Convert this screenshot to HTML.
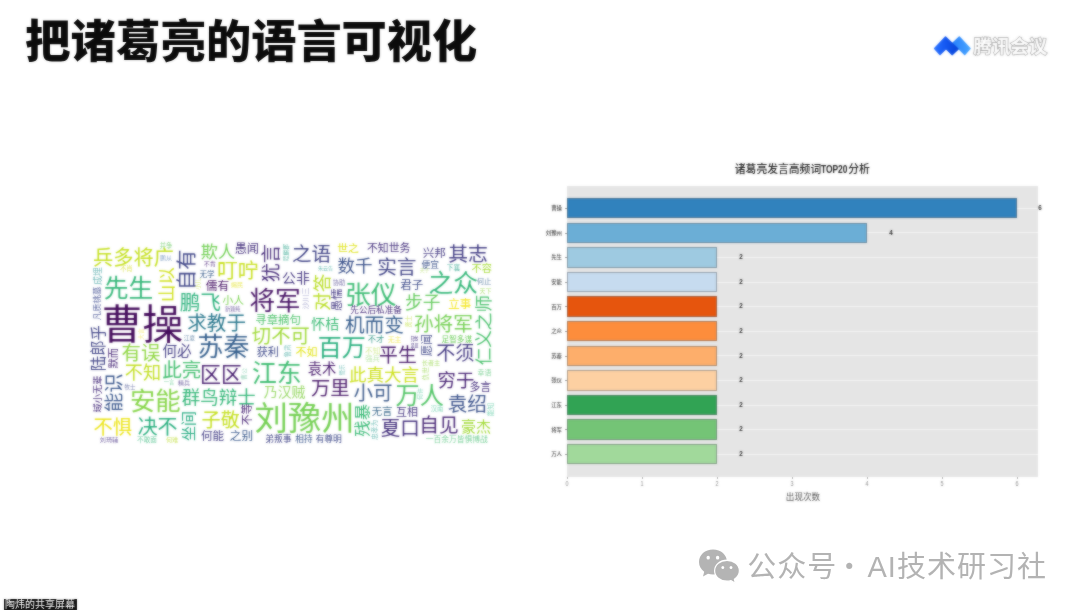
<!DOCTYPE html>
<html lang="zh"><head><meta charset="utf-8"><title>把诸葛亮的语言可视化</title>
<style>
html,body{margin:0;padding:0;background:#fff;}
body{width:1080px;height:610px;position:relative;overflow:hidden;font-family:"Liberation Sans","Noto Sans CJK SC",sans-serif;}
.title{position:absolute;left:25.3px;top:10.5px;font-size:45.2px;line-height:64px;font-weight:900;color:#0b0b0b;white-space:nowrap;letter-spacing:0px;filter:url(#soft2);}
.wc{position:absolute;left:0;top:0;width:1080px;height:610px;filter:url(#soft);}
.wc text{font-family:"Liberation Sans","Noto Sans CJK SC",sans-serif;font-weight:400;}
.chart{position:absolute;left:0;top:0;width:1080px;height:610px;filter:url(#soft);}
.chart div{position:absolute;}
.plot{background:#e5e5e5;}
.grid{height:1px;background:#f4f4f4;}
.bar{box-sizing:border-box;border:1px solid rgba(95,100,105,.5);}
.ylab{left:500px;width:62px;text-align:right;font-size:5.4px;line-height:8px;color:#484848;font-weight:500;}
.ytick{left:564.5px;width:2.5px;height:.6px;background:#999;}
.val{width:10px;text-align:center;font-size:8px;line-height:8px;color:#222;font-weight:700;transform:scaleX(.78);}
.xtick{top:476.6px;width:.6px;height:2.5px;background:#aaa;}
.xlab{top:480px;width:20px;text-align:center;font-size:6.4px;line-height:8px;color:#888;transform:scaleX(.85);}
.ctitle{left:702.3px;top:161.8px;width:200px;text-align:center;font-size:10.8px;line-height:14px;color:#222;font-weight:500;white-space:nowrap;}
.ctitle .t{display:inline-block;width:27px;text-align:left;}
.ctitle .t b{display:inline-block;font-weight:700;font-size:11.2px;transform:scaleX(.75);transform-origin:0 50%;}
.xtitle{left:753px;top:491px;width:100px;text-align:center;font-size:8.6px;line-height:12px;color:#555;}
.logo{position:absolute;left:925px;top:25px;filter:url(#soft);}
.logotxt{position:absolute;left:973.5px;top:34px;font-size:18.4px;line-height:26px;font-weight:700;color:#fff;white-space:nowrap;-webkit-text-stroke:1.3px #a8a8a8;paint-order:stroke fill;text-shadow:0 0 1.5px #aaa;filter:url(#soft);}
.wm{position:absolute;top:546.5px;font-size:29px;line-height:40px;color:#b3b3b3;white-space:nowrap;letter-spacing:1px;font-weight:400;}
.wmicon{position:absolute;left:694.5px;top:543.8px;}
.share{position:absolute;left:3.5px;top:598.5px;width:73px;height:12px;background:#111;color:#fff;font-size:10px;line-height:12px;white-space:nowrap;text-align:center;overflow:hidden;filter:url(#soft2);}
</style></head><body>
<svg width="0" height="0" style="position:absolute"><defs>
<filter id="soft" x="-2%" y="-2%" width="104%" height="104%" color-interpolation-filters="sRGB"><feGaussianBlur in="SourceGraphic" stdDeviation="0.9" result="b"/><feComposite in="SourceGraphic" in2="b" operator="arithmetic" k1="0" k2="0.4" k3="0.6" k4="0"/></filter>
<filter id="soft2" x="-2%" y="-10%" width="104%" height="120%" color-interpolation-filters="sRGB"><feGaussianBlur in="SourceGraphic" stdDeviation="0.85" result="b"/><feComposite in="SourceGraphic" in2="b" operator="arithmetic" k1="0" k2="0.6" k3="0.4" k4="0"/></filter>
</defs></svg>
<div class="title">把诸葛亮的语言可视化</div>
<svg class="logo" width="50" height="36" viewBox="0 0 50 36">
<defs><linearGradient id="g1" x1="0" y1="0" x2="1" y2="0"><stop offset="0" stop-color="#2a72ff"/><stop offset=".45" stop-color="#1458f2"/><stop offset="1" stop-color="#0844d8"/></linearGradient>
<linearGradient id="g2" x1="0" y1="0" x2="1" y2="0"><stop offset="0" stop-color="#1e74fa"/><stop offset="1" stop-color="#46a4ff"/></linearGradient></defs>
<path d="M45 23.5 L34.3 12 L21.6 24.1 L27.2 29.6 L33.7 23.6 L39.7 29.6Z" fill="url(#g2)" stroke="url(#g2)" stroke-width="1.4" stroke-linejoin="round"/>
<path d="M9.6 23.5 L20.5 12 L33 24.1 L27.2 29.6 L21.1 23.6 L15 29.6Z" fill="url(#g1)" stroke="url(#g1)" stroke-width="1.4" stroke-linejoin="round"/>
</svg>
<div class="logotxt">腾讯会议</div>
<svg class="wc" width="1080" height="610" viewBox="0 0 1080 610">
<text x="93.12" y="265.07" font-size="20.19" fill="#c5e021">兵多将广</text>
<text x="103.85" y="296.54" font-size="24.77" fill="#35b779">先生</text>
<text x="200.87" y="258.01" font-size="17.13" fill="#73d056">欺人</text>
<text x="234.67" y="253.12" font-size="12.21" fill="#46327e">愚闻</text>
<text x="217.00" y="278.01" font-size="20.80" fill="#c8e020">叮咛</text>
<text x="292.05" y="261.28" font-size="19.55" fill="#414487">之语</text>
<text x="281.98" y="283.45" font-size="13.95" fill="#453781">公非</text>
<text x="249.45" y="310.01" font-size="25.69" fill="#471365">将军</text>
<text x="222.50" y="304.28" font-size="10.75" fill="#7ad151">小人</text>
<text x="205.77" y="290.25" font-size="11.71" fill="#471365">儒有</text>
<text x="199.51" y="276.63" font-size="7.61" fill="#3a5e8c">无学</text>
<text x="203.64" y="266.08" font-size="6.12" fill="#6a4a90">不肯</text>
<text x="337.30" y="252.41" font-size="10.79" fill="#dfe318">世之</text>
<text x="337.47" y="272.42" font-size="17.55" fill="#3b528b">数千</text>
<text x="366.91" y="252.13" font-size="10.87" fill="#46327e">不知世务</text>
<text x="377.16" y="273.58" font-size="19.70" fill="#414487">实言</text>
<text x="422.67" y="256.95" font-size="11.58" fill="#443a83">兴邦</text>
<text x="448.20" y="261.04" font-size="19.85" fill="#433e85">其志</text>
<text x="421.48" y="267.87" font-size="8.76" fill="#3b528b">便宜</text>
<text x="471.52" y="272.42" font-size="10.18" fill="#a5db36">不容</text>
<text x="428.42" y="292.34" font-size="24.78" fill="#35b779">之众</text>
<text x="400.23" y="289.07" font-size="11.47" fill="#3e4c8a">君子</text>
<text x="345.07" y="303.87" font-size="25.79" fill="#3dbc74">张仪</text>
<text x="404.96" y="309.13" font-size="17.70" fill="#65cb5e">步子</text>
<text x="448.33" y="307.56" font-size="11.47" fill="#f4e61e">立事</text>
<text x="350.34" y="312.73" font-size="8.61" fill="#472d7b">先公后私准备</text>
<text x="179.67" y="310.07" font-size="20.58" fill="#2db27d">鹏飞</text>
<text x="101.41" y="338.72" font-size="40.97" fill="#450d5c">曹操</text>
<text x="187.18" y="330.20" font-size="19.61" fill="#2a788e">求教于</text>
<text x="255.24" y="323.65" font-size="11.44" fill="#4ec36b">寻章摘句</text>
<text x="311.06" y="329.23" font-size="14.15" fill="#3bbb75">怀桔</text>
<text x="344.96" y="332.07" font-size="19.66" fill="#365d8d">机而变</text>
<text x="413.88" y="330.88" font-size="19.68" fill="#75d054">孙将军</text>
<text x="251.86" y="342.79" font-size="19.28" fill="#a0da39">切不可</text>
<text x="197.57" y="355.85" font-size="25.91" fill="#355f8d">苏秦</text>
<text x="121.51" y="359.67" font-size="19.39" fill="#90d743">有误</text>
<text x="162.41" y="355.91" font-size="14.56" fill="#433e85">何必</text>
<text x="256.65" y="355.73" font-size="11.12" fill="#3e4989">获利</text>
<text x="295.57" y="355.93" font-size="10.99" fill="#e2e418">不如</text>
<text x="317.63" y="355.94" font-size="24.12" fill="#2ab07f">百万</text>
<text x="367.77" y="342.41" font-size="8.31" fill="#3a9a8b">不才</text>
<text x="441.48" y="341.66" font-size="7.66" fill="#6ccd5a">足智多谋</text>
<text x="379.09" y="362.35" font-size="18.81" fill="#47186a">平生</text>
<text x="436.28" y="359.99" font-size="19.02" fill="#443a83">不须</text>
<text x="124.85" y="379.23" font-size="18.11" fill="#c2df23">不知</text>
<text x="162.14" y="376.72" font-size="19.66" fill="#44bf70">此亮</text>
<text x="199.89" y="382.45" font-size="21.08" fill="#481f70">区区</text>
<text x="251.91" y="381.96" font-size="24.89" fill="#40bd72">江东</text>
<text x="307.64" y="373.62" font-size="14.31" fill="#481b6d">袁术</text>
<text x="348.93" y="380.51" font-size="17.54" fill="#cde11d">此真大言</text>
<text x="437.56" y="387.00" font-size="18.41" fill="#482374">穷于</text>
<text x="469.48" y="390.88" font-size="10.86" fill="#46307e">多言</text>
<text x="310.91" y="394.61" font-size="19.33" fill="#4a1a6a">万里</text>
<text x="263.77" y="396.90" font-size="13.92" fill="#9bd96a">乃汉贼</text>
<text x="353.48" y="400.34" font-size="19.57" fill="#3e5c8c">小可</text>
<text x="395.61" y="403.80" font-size="24.14" fill="#54c568">万人</text>
<text x="447.68" y="410.64" font-size="19.57" fill="#3b528b">袁绍</text>
<text x="129.90" y="410.34" font-size="25.37" fill="#86d549">安能</text>
<text x="181.87" y="403.51" font-size="18.45" fill="#35b779">群鸟辩士</text>
<text x="254.60" y="429.93" font-size="33.37" fill="#75d054">刘豫州</text>
<text x="371.66" y="415.47" font-size="10.44" fill="#3f6d8e">无言</text>
<text x="395.90" y="415.68" font-size="11.01" fill="#453581">互相</text>
<text x="93.50" y="433.67" font-size="19.25" fill="#ece51b">不惧</text>
<text x="137.66" y="433.58" font-size="19.94" fill="#29af7f">决不</text>
<text x="201.61" y="426.81" font-size="19.10" fill="#c5e021">子敬</text>
<text x="200.95" y="440.39" font-size="11.55" fill="#433e85">何能</text>
<text x="229.85" y="440.42" font-size="11.64" fill="#38588c">之别</text>
<text x="380.81" y="435.08" font-size="19.52" fill="#46327e">夏口</text>
<text x="419.33" y="432.00" font-size="19.73" fill="#4b2a78">自见</text>
<text x="461.10" y="432.47" font-size="14.98" fill="#a2da37">豪杰</text>
<text x="425.76" y="442.29" font-size="7.75" fill="#7ad19a">一百余万皆惧博战</text>
<text x="265.34" y="441.79" font-size="8.78" fill="#414487">弟叛事</text>
<text x="295.30" y="441.73" font-size="8.63" fill="#39568c">相持</text>
<text x="315.39" y="441.76" font-size="8.83" fill="#3e4989">有尊明</text>
<text x="159.67" y="248.35" font-size="6.27" fill="#8fd68a">并争</text>
<text x="159.90" y="260.08" font-size="6.13" fill="#8aa6c8">鹏从</text>
<text x="119.91" y="271.17" font-size="6.38" fill="#dfe660">不肖</text>
<text x="183.85" y="339.61" font-size="5.62" fill="#6f8fae">江夏</text>
<text x="163.76" y="384.49" font-size="5.24" fill="#6fcf98">一言</text>
<text x="178.04" y="384.78" font-size="5.99" fill="#7a6ea6">精兵</text>
<text x="124.55" y="389.09" font-size="5.50" fill="#7f86b3">牧士</text>
<text x="99.87" y="442.06" font-size="6.09" fill="#7a6aa6">刘琦辅</text>
<text x="137.11" y="442.26" font-size="6.62" fill="#76cfa6">不敢面</text>
<text x="165.90" y="442.08" font-size="6.13" fill="#cfe66a">何难</text>
<text x="224.98" y="311.21" font-size="5.16" fill="#7a6aa6">新颖纯</text>
<text x="230.87" y="287.05" font-size="6.22" fill="#eaea60">竭民</text>
<text x="317.99" y="270.14" font-size="5.04" fill="#78c2bb">朱云告</text>
<text x="332.74" y="285.42" font-size="6.36" fill="#7f78ad">协助</text>
<text x="446.78" y="269.56" font-size="6.66" fill="#5cb8a6">下襄</text>
<text x="476.72" y="284.33" font-size="7.35" fill="#6f8fae">何止</text>
<text x="479.61" y="292.76" font-size="5.92" fill="#b5e27f">天下</text>
<text x="387.63" y="342.14" font-size="6.94" fill="#f3ea66">无主</text>
<text x="365.08" y="353.89" font-size="7.61" fill="#d6ec9a">不知</text>
<text x="365.18" y="361.46" font-size="7.32" fill="#bfe8ae">强兵</text>
<text x="421.82" y="365.07" font-size="6.12" fill="#b5e27f">长者主</text>
<text x="477.56" y="375.14" font-size="6.94" fill="#8ad6a0">幸语</text>
<text x="430.72" y="411.40" font-size="6.31" fill="#8ad9bd">汉南</text>
<text x="419.69" y="272.41" font-size="4.81" fill="#cfe9a0">天子</text>
<text x="148.38" y="290.48" font-size="17.27" fill="#d0e11c" transform="rotate(-90 166.25 284.00)">山以</text>
<text x="164.83" y="276.41" font-size="20.17" fill="#404688" transform="rotate(-90 186.00 268.75)">自有</text>
<text x="251.94" y="270.46" font-size="19.11" fill="#472c7a" transform="rotate(-90 271.05 263.20)">犹言</text>
<text x="303.37" y="299.16" font-size="18.44" fill="#bade28" transform="rotate(-90 322.00 292.15)">对答</text>
<text x="325.84" y="303.97" font-size="11.10" fill="#443983" transform="rotate(-90 337.00 299.75)">愚懦</text>
<text x="448.42" y="336.95" font-size="17.63" fill="#4ac16d" transform="rotate(-90 483.50 330.25)">仁义之师</text>
<text x="75.19" y="353.87" font-size="15.44" fill="#414487" transform="rotate(-90 98.50 348.00)">陆郎乎</text>
<text x="102.74" y="362.21" font-size="10.41" fill="#482878" transform="rotate(-90 113.10 358.25)">默而</text>
<text x="94.42" y="400.09" font-size="19.33" fill="#39568c" transform="rotate(-90 113.75 392.75)">能识</text>
<text x="79.03" y="397.53" font-size="9.28" fill="#472d7b" transform="rotate(-90 97.50 394.00)">域小无辈</text>
<text x="173.30" y="431.90" font-size="15.07" fill="#25ab82" transform="rotate(-90 188.00 426.25)">坐间</text>
<text x="236.37" y="418.48" font-size="10.88" fill="#482475" transform="rotate(-90 247.25 414.35)">不等</text>
<text x="345.26" y="426.58" font-size="16.39" fill="#3aba76" transform="rotate(-90 361.65 420.35)">残暴</text>
<text x="88.70" y="279.30" font-size="8.80" fill="#6fb8b8" transform="rotate(-90 97.50 276.00)">成埋</text>
<text x="80.18" y="306.70" font-size="8.41" fill="#5f6aa3" transform="rotate(-90 97.00 303.50)">凡质桃墓</text>
<text x="277.73" y="254.64" font-size="5.62" fill="#5cb8a6" transform="rotate(-90 286.25 252.50)">睦麟郡</text>
<text x="294.68" y="301.20" font-size="7.29" fill="#a9a9d0" transform="rotate(-90 305.50 298.50)">沙川三</text>
<text x="415.70" y="349.30" font-size="11.08" fill="#3f4788" transform="rotate(-90 426.50 345.20)">愿闻</text>
<text x="407.80" y="344.84" font-size="6.82" fill="#6a5a9a" transform="rotate(-90 414.65 342.25)">智谋</text>
<text x="402.69" y="323.88" font-size="6.25" fill="#d0e870" transform="rotate(-90 409.00 321.50)">贤士</text>
<text x="418.39" y="376.04" font-size="6.67" fill="#b5e27f" transform="rotate(-90 425.00 373.50)">仇世</text>
<text x="413.54" y="396.28" font-size="5.99" fill="#8ad9bd" transform="rotate(-90 419.50 394.00)">何许</text>
<text x="483.30" y="412.10" font-size="6.84" fill="#8ad9bd" transform="rotate(-90 490.00 409.50)">能知</text>
<text x="363.91" y="432.63" font-size="6.84" fill="#78c2bb" transform="rotate(-90 374.00 430.00)">忠孝为</text>
<text x="336.50" y="372.09" font-size="5.50" fill="#78c2bb" transform="rotate(-90 342.00 370.00)">管乐</text>
<text x="281.78" y="353.39" font-size="6.28" fill="#78c2bb" transform="rotate(-90 288.00 351.00)">鲁肃</text>
<text x="135.13" y="336.13" font-size="5.62" fill="#f6ee8a" transform="rotate(-90 140.75 334.00)">大言</text>
<text x="192.40" y="286.19" font-size="5.85" fill="#d0e870" transform="rotate(-90 198.25 284.00)">小儿</text>
<text x="237.75" y="376.25" font-size="5.91" fill="#9fd8c0" transform="rotate(-90 243.75 374.00)">曹公</text>
</svg>
<div class="chart">
<div class="ctitle">诸葛亮发言高频词<span class="t"><b>TOP20</b></span>分析</div>
<div class="plot" style="left:567.4px;top:186px;width:471.1px;height:290.6px"></div>
<div class="grid" style="left:567.4px;top:207.7px;width:471.1px"></div>
<div class="grid" style="left:567.4px;top:232.3px;width:471.1px"></div>
<div class="grid" style="left:567.4px;top:256.9px;width:471.1px"></div>
<div class="grid" style="left:567.4px;top:281.5px;width:471.1px"></div>
<div class="grid" style="left:567.4px;top:306.1px;width:471.1px"></div>
<div class="grid" style="left:567.4px;top:330.7px;width:471.1px"></div>
<div class="grid" style="left:567.4px;top:355.3px;width:471.1px"></div>
<div class="grid" style="left:567.4px;top:379.9px;width:471.1px"></div>
<div class="grid" style="left:567.4px;top:404.5px;width:471.1px"></div>
<div class="grid" style="left:567.4px;top:429.1px;width:471.1px"></div>
<div class="grid" style="left:567.4px;top:453.7px;width:471.1px"></div>
<div class="bar" style="left:567.4px;top:198.0px;width:449.6px;height:20.4px;background:#3182bd"></div>
<div class="ylab" style="top:204.2px">曹操</div>
<div class="ytick" style="top:207.9px"></div>
<div class="val" style="left:1035.0px;top:203.9px">6</div>
<div class="bar" style="left:567.4px;top:222.6px;width:299.7px;height:20.4px;background:#6baed6"></div>
<div class="ylab" style="top:228.8px">刘豫州</div>
<div class="ytick" style="top:232.5px"></div>
<div class="val" style="left:885.6px;top:228.5px">4</div>
<div class="bar" style="left:567.4px;top:247.2px;width:149.9px;height:20.4px;background:#9ecae1"></div>
<div class="ylab" style="top:253.4px">先生</div>
<div class="ytick" style="top:257.1px"></div>
<div class="val" style="left:735.8px;top:253.1px">2</div>
<div class="bar" style="left:567.4px;top:271.8px;width:149.9px;height:20.4px;background:#c6dbef"></div>
<div class="ylab" style="top:278.0px">安能</div>
<div class="ytick" style="top:281.8px"></div>
<div class="val" style="left:735.8px;top:277.7px">2</div>
<div class="bar" style="left:567.4px;top:296.4px;width:149.9px;height:20.4px;background:#e6550d"></div>
<div class="ylab" style="top:302.6px">百万</div>
<div class="ytick" style="top:306.3px"></div>
<div class="val" style="left:735.8px;top:302.3px">2</div>
<div class="bar" style="left:567.4px;top:321.0px;width:149.9px;height:20.4px;background:#fd8d3c"></div>
<div class="ylab" style="top:327.2px">之众</div>
<div class="ytick" style="top:330.9px"></div>
<div class="val" style="left:735.8px;top:326.9px">2</div>
<div class="bar" style="left:567.4px;top:345.6px;width:149.9px;height:20.4px;background:#fdae6b"></div>
<div class="ylab" style="top:351.8px">苏秦</div>
<div class="ytick" style="top:355.6px"></div>
<div class="val" style="left:735.8px;top:351.5px">2</div>
<div class="bar" style="left:567.4px;top:370.2px;width:149.9px;height:20.4px;background:#fdd0a2"></div>
<div class="ylab" style="top:376.4px">张仪</div>
<div class="ytick" style="top:380.2px"></div>
<div class="val" style="left:735.8px;top:376.1px">2</div>
<div class="bar" style="left:567.4px;top:394.8px;width:149.9px;height:20.4px;background:#31a354"></div>
<div class="ylab" style="top:401.0px">江东</div>
<div class="ytick" style="top:404.8px"></div>
<div class="val" style="left:735.8px;top:400.7px">2</div>
<div class="bar" style="left:567.4px;top:419.4px;width:149.9px;height:20.4px;background:#74c476"></div>
<div class="ylab" style="top:425.6px">将军</div>
<div class="ytick" style="top:429.3px"></div>
<div class="val" style="left:735.8px;top:425.3px">2</div>
<div class="bar" style="left:567.4px;top:444.0px;width:149.9px;height:20.4px;background:#a1d99b"></div>
<div class="ylab" style="top:450.2px">万人</div>
<div class="ytick" style="top:453.9px"></div>
<div class="val" style="left:735.8px;top:449.9px">2</div>
<div class="xtick" style="left:567.1px"></div>
<div class="xlab" style="left:557.4px">0</div>
<div class="xtick" style="left:642.1px"></div>
<div class="xlab" style="left:632.3px">1</div>
<div class="xtick" style="left:717.0px"></div>
<div class="xlab" style="left:707.3px">2</div>
<div class="xtick" style="left:791.9px"></div>
<div class="xlab" style="left:782.2px">3</div>
<div class="xtick" style="left:866.9px"></div>
<div class="xlab" style="left:857.1px">4</div>
<div class="xtick" style="left:941.8px"></div>
<div class="xlab" style="left:932.0px">5</div>
<div class="xtick" style="left:1016.7px"></div>
<div class="xlab" style="left:1007.0px">6</div>
<div class="xtitle">出现次数</div>
</div>
<svg class="wmicon" width="50" height="45.5" viewBox="0 0 50 42" preserveAspectRatio="none">
<g fill="#b4b4b4">
<path d="M18 5 C10 5 4 10 4 16.5 C4 20.2 6 23.4 9.2 25.5 L8 30 L13 27.4 C14.6 27.9 16.2 28.1 18 28.1 C26 28.1 32 23 32 16.5 C32 10 26 5 18 5Z"/>
<path d="M32 15 C25.2 15 19.6 19.3 19.6 24.7 C19.6 30.1 25.2 34.4 32 34.4 C33.4 34.4 34.8 34.2 36 33.9 L40.4 36.4 L39.4 32.5 C42.4 30.7 44.4 27.9 44.4 24.7 C44.4 19.3 38.8 15 32 15Z" stroke="#fff" stroke-width="1.2"/>
</g>
<g fill="#fff"><circle cx="13.2" cy="12.6" r="1.7"/><circle cx="22.6" cy="12.6" r="1.7"/><circle cx="27.8" cy="21.6" r="1.4"/><circle cx="36" cy="21.6" r="1.4"/></g>
</svg>
<div class="wm" style="left:747.3px">公众号</div><div class="wm" style="left:834.7px;top:544.3px;width:29px;text-align:center;letter-spacing:0;font-weight:400;font-family:'Noto Sans CJK SC',sans-serif">·</div><div class="wm" style="left:867.5px">AI技术研习社</div>
<div class="share">陶炜的共享屏幕</div>
</body></html>
